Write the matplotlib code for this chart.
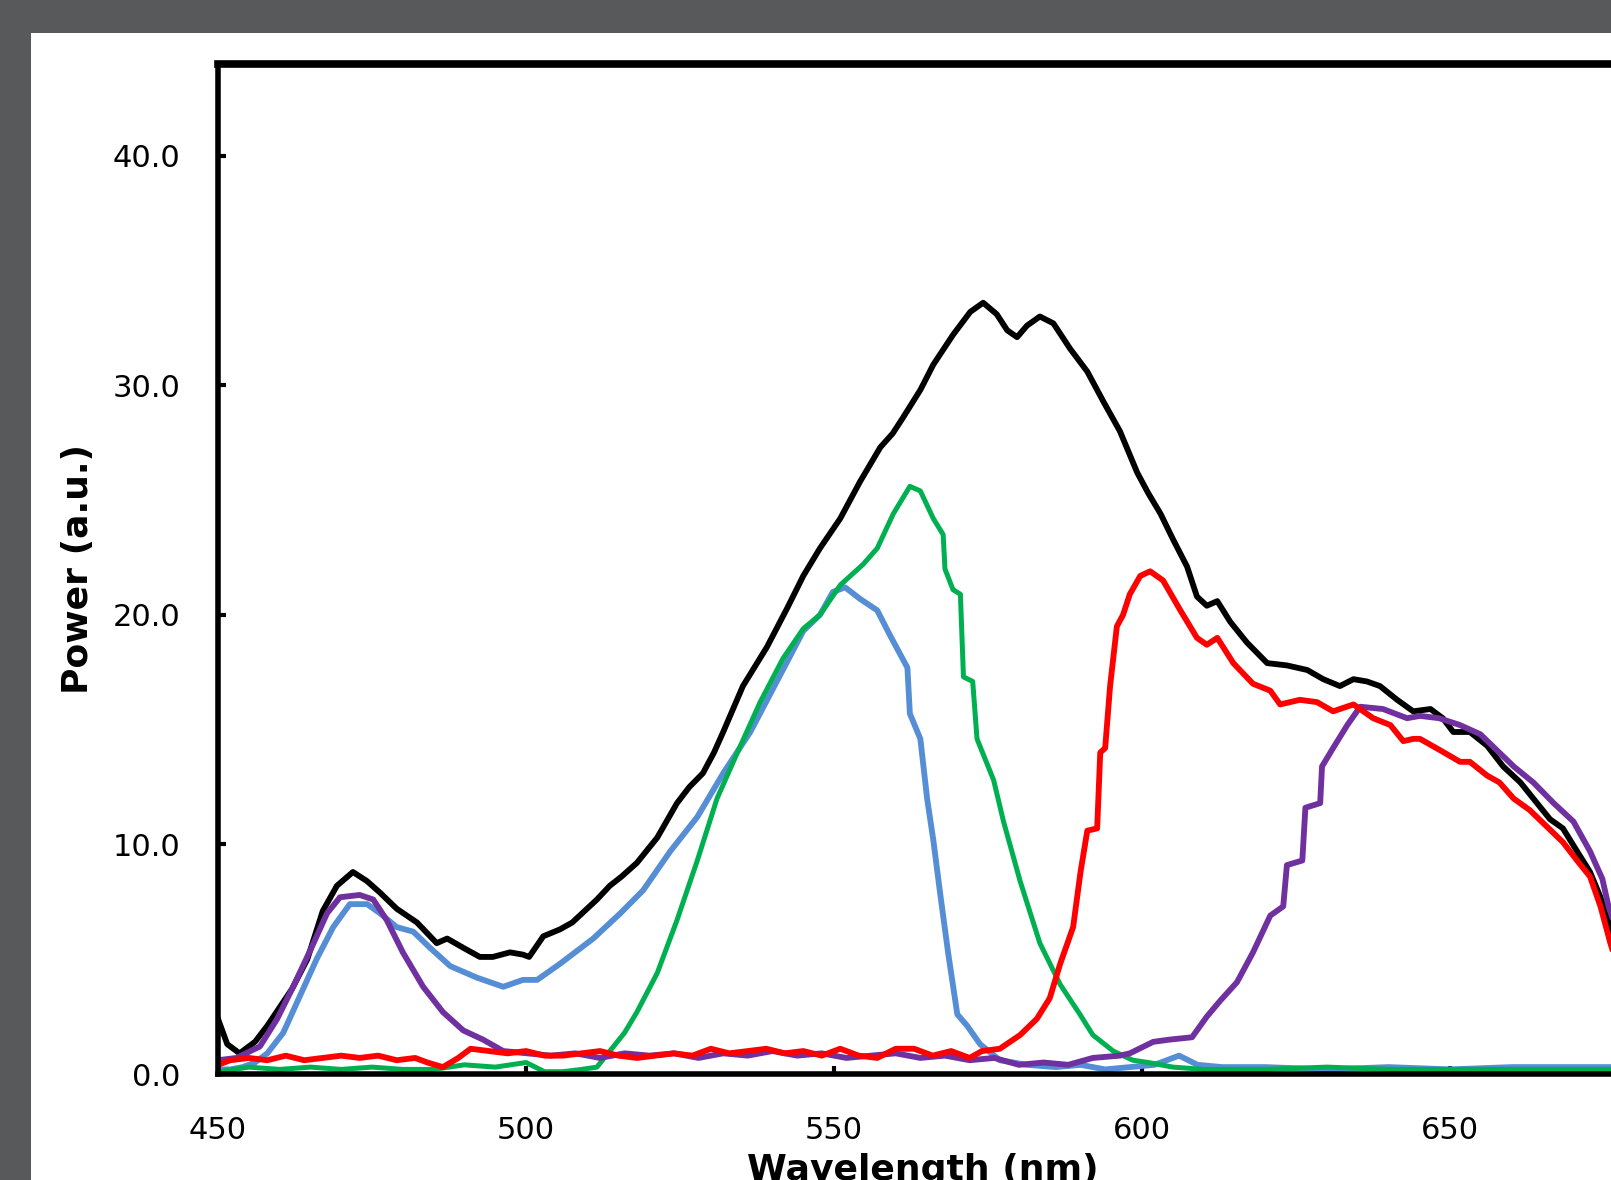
import matplotlib
matplotlib.use("Agg")
import matplotlib.pyplot as plt
from matplotlib.patches import Rectangle
from matplotlib.ticker import FormatStrFormatter

# espectro total (negro)
wl_black = [450, 451.5, 453.5, 456, 458, 460, 462, 464.5, 467, 469.3, 471.9, 474.2, 476.3, 479,
            482.3, 485.5, 487.2, 489.8, 492.5, 494.6, 497.4, 499.5, 500.5, 502.8, 505.5, 507.5,
            509.9, 511.5, 513.6, 515.5, 518, 521.3, 524.5, 526.5, 528.7, 530.5, 532, 535.2, 539.1,
            542.4, 545, 547.7, 551, 554.2, 557.5, 559.5, 561.2, 564, 566.1, 569.3, 572.1, 574.2,
            576.4, 578.1, 579.7, 581.3, 583.4, 585.6, 588.3, 591.1, 593.7, 596.4, 599.2, 601, 603,
            605, 607.3, 608.9, 610.5, 612.2, 614.3, 617, 620.3, 623.5, 626.8, 629.4, 632.1, 634.3,
            636.5, 638.6, 641.4, 644, 646.8, 648.8, 650.5, 653.2, 656, 658.6, 661.4, 664.1, 666.2,
            668.3, 670.6, 672.7, 674.4, 675.7, 677, 679]
black = [2.4, 1.3, 0.9, 1.4, 2.1, 2.9, 3.7, 5.0, 7.1, 8.2, 8.8, 8.4, 7.9, 7.2, 6.6, 5.7, 5.9, 5.5,
         5.1, 5.1, 5.3, 5.2, 5.1, 6.0, 6.3, 6.6, 7.2, 7.6, 8.2, 8.6, 9.2, 10.3, 11.8, 12.5, 13.1,
         14.0, 14.9, 16.9, 18.6, 20.3, 21.7, 22.9, 24.2, 25.8, 27.3, 27.9, 28.6, 29.8, 30.9, 32.2,
         33.2, 33.6, 33.1, 32.4, 32.1, 32.6, 33.0, 32.7, 31.6, 30.6, 29.3, 28.0, 26.2, 25.3, 24.4,
         23.3, 22.1, 20.8, 20.4, 20.6, 19.7, 18.8, 17.9, 17.8, 17.6, 17.2, 16.9, 17.2, 17.1, 16.9,
         16.3, 15.8, 15.9, 15.5, 14.9, 14.9, 14.3, 13.4, 12.7, 11.8, 11.1, 10.7, 9.7, 8.8, 7.7,
         6.6, 5.5, 3.5]

# azul
wl_blue = [450, 452, 454, 456, 458, 460.6, 463.3, 466, 468.7, 471.4, 474.2, 476.3, 479, 481.7,
           484.4, 487.7, 492, 496.3, 499.5, 501.8, 505.5, 510.9, 515.3, 519, 523.4, 527.8, 532,
           536.4, 540.7, 545, 547.7, 549.8, 551.8, 554.2, 557, 559.1, 561.9, 562.3, 564, 565.1,
           566.1, 567.2, 568.5, 570, 571.6, 573.7, 576.9, 581.3, 586, 590, 594, 598, 602, 606,
           609, 613, 620, 630, 640, 650, 660, 670, 680]
blue = [0.2, 0.2, 0.3, 0.5, 0.9, 1.8, 3.4, 5.0, 6.4, 7.4, 7.4, 7.0, 6.4, 6.2, 5.5, 4.7, 4.2, 3.8,
        4.1, 4.1, 4.8, 5.9, 7.0, 8.0, 9.7, 11.2, 13.1, 14.9, 17.1, 19.3, 20.0, 21.0, 21.2, 20.7,
        20.2, 19.1, 17.7, 15.7, 14.6, 12.0, 10.2, 7.9, 5.3, 2.6, 2.1, 1.3, 0.6, 0.4, 0.3, 0.4,
        0.2, 0.3, 0.4, 0.8, 0.4, 0.3, 0.3, 0.2, 0.3, 0.2, 0.3, 0.3, 0.3]

# verde
wl_green = [450, 455, 460, 465, 470, 475, 480, 485, 490, 495, 500, 503, 506, 509, 511.5, 513.6,
            516, 518, 521.3, 524.5, 527.8, 531, 534.3, 538, 541.7, 545, 547.7, 551, 554.7, 557,
            559.6, 562.3, 564, 566.1, 567.7, 568, 569.3, 570.5, 571, 572.5, 573.2, 575.9, 577.5,
            580.2, 583.4, 586.7, 589.9, 592, 595.3, 598.5, 601, 605, 610, 620, 630, 640, 650,
            660, 670, 680]
green = [0.1, 0.3, 0.2, 0.3, 0.2, 0.3, 0.2, 0.2, 0.4, 0.3, 0.5, 0.1, 0.1, 0.2, 0.3, 1.0, 1.8,
         2.7, 4.4, 6.7, 9.3, 12.0, 14.0, 16.2, 18.1, 19.4, 20.0, 21.3, 22.2, 22.9, 24.4, 25.6,
         25.4, 24.2, 23.5, 22.0, 21.1, 20.9, 17.3, 17.1, 14.6, 12.8, 11.0, 8.4, 5.7, 3.9, 2.6,
         1.7, 1.0, 0.6, 0.5, 0.3, 0.2, 0.2, 0.3, 0.2, 0.2, 0.2, 0.2, 0.2]

# rojo
wl_red = [450, 452, 455, 458, 461, 464, 467, 470, 473, 476, 479, 482, 484, 486.5, 489, 491, 494,
          497, 500, 503, 506, 509, 512, 515, 518, 521, 524, 527, 530, 533, 536, 539, 542, 545,
          548, 551, 554, 557, 560, 563, 566, 569, 572, 574, 576.9, 580.2, 582.9, 585, 586.7,
          588.8, 590, 591.1, 592.7, 593.2, 594, 594.8, 595.9, 596.9, 598, 599.7, 601.3, 603.4,
          606.2, 608.9, 610.5, 612.2, 614.8, 618, 620.8, 622.4, 625.6, 628.4, 631, 634.3, 637.5,
          640.3, 642.4, 644, 645.1, 648.4, 651.6, 653.2, 656, 658, 660.3, 662.9, 665.6, 668.3,
          670.6, 672.7, 674.4, 676, 678, 680]
red = [0.4, 0.6, 0.7, 0.6, 0.8, 0.6, 0.7, 0.8, 0.7, 0.8, 0.6, 0.7, 0.5, 0.3, 0.7, 1.1, 1.0, 0.9,
       1.0, 0.8, 0.8, 0.9, 1.0, 0.8, 0.7, 0.8, 0.9, 0.8, 1.1, 0.9, 1.0, 1.1, 0.9, 1.0, 0.8, 1.1,
       0.8, 0.7, 1.1, 1.1, 0.8, 1.0, 0.7, 1.0, 1.1, 1.7, 2.4, 3.3, 4.8, 6.4, 8.8, 10.6, 10.7,
       14.0, 14.2, 16.9, 19.5, 20.0, 20.9, 21.7, 21.9, 21.5, 20.2, 19.0, 18.7, 19.0, 17.9, 17.0,
       16.7, 16.1, 16.3, 16.2, 15.8, 16.1, 15.5, 15.2, 14.5, 14.6, 14.6, 14.1, 13.6, 13.6, 13.0,
       12.7, 12.0, 11.5, 10.8, 10.1, 9.3, 8.6, 7.3, 5.7, 4.0, 2.5]

# morado
wl_purple = [450, 453, 456.8, 459.6, 462.2, 465, 467.7, 469.8, 473, 475.2, 477.4, 480, 483.3,
             486.5, 489.8, 493, 496.3, 500.2, 504, 508, 512, 516, 520, 524, 528, 532, 536, 540,
             544, 548, 552, 556, 560, 564, 568, 572, 576, 580, 584, 588, 592, 596.4, 598, 601.8,
             604.5, 608.1, 610.5, 612.7, 615.4, 618, 620.8, 622.9, 623.5, 626, 626.5, 628.9,
             629.2, 631, 633.3, 635.4, 639.1, 643, 645.1, 648.2, 651.6, 654.9, 657.6, 660.3,
             663.5, 666.8, 670, 672.7, 674.7, 675.7, 678, 680]
purple = [0.6, 0.7, 1.2, 2.4, 3.8, 5.4, 7.0, 7.7, 7.8, 7.6, 6.7, 5.3, 3.8, 2.7, 1.9, 1.5, 1.0,
          0.9, 0.8, 0.9, 0.7, 0.9, 0.8, 0.9, 0.7, 0.9, 0.8, 1.0, 0.8, 0.9, 0.7, 0.8, 0.9, 0.7,
          0.8, 0.6, 0.7, 0.4, 0.5, 0.4, 0.7, 0.8, 0.9, 1.4, 1.5, 1.6, 2.5, 3.2, 4.0, 5.3, 6.9,
          7.3, 9.1, 9.3, 11.6, 11.8, 13.4, 14.2, 15.2, 16.0, 15.9, 15.5, 15.6, 15.5, 15.2, 14.8,
          14.1, 13.4, 12.7, 11.8, 11.0, 9.7, 8.5, 7.3, 5.5, 3.5]

x_ticks = [450, 500, 550, 600, 650]
y_ticks = [0, 10, 20, 30, 40]

fig = plt.figure(figsize=(16.11, 11.80), dpi=100, facecolor="#58595b")
# panel blanco de la captura
fig.patches.append(Rectangle((31 / 1611, 0), 1, 1147 / 1180, transform=fig.transFigure,
                             facecolor="white", edgecolor="none", zorder=-10))

ax = fig.add_axes([218 / 1611, 106 / 1180, 1417 / 1611, 1010 / 1180])
ax.set_zorder(5)
ax.set_facecolor("white")

lw = 4.2
ax.plot(wl_black, black, color="black", lw=lw, solid_joinstyle="round")
ax.plot(wl_blue, blue, color="#558ed5", lw=lw, solid_joinstyle="round")
ax.plot(wl_green, green, color="#00b050", lw=3.6, solid_joinstyle="round")
ax.plot(wl_purple, purple, color="#7030a0", lw=lw, solid_joinstyle="round")
ax.plot(wl_red, red, color="#ff0000", lw=lw, solid_joinstyle="round")

ax.set_xlim(450, 680)
ax.set_ylim(0, 44)
ax.set_xticks(x_ticks)
ax.set_yticks(y_ticks)
ax.yaxis.set_major_formatter(FormatStrFormatter("%.1f"))

for s in ["left", "bottom", "right"]:
    ax.spines[s].set_linewidth(4)
ax.spines["top"].set_linewidth(5.5)

ax.tick_params(direction="in", length=6, width=3, labelsize=22, colors="black")
ax.tick_params(axis="y", pad=27)
ax.tick_params(axis="x", pad=30)

ax.set_xlabel("Wavelength (nm)", fontsize=26, fontweight="bold")
ax.set_ylabel("Power (a.u.)", fontsize=26, fontweight="bold")
ax.xaxis.set_label_coords((923 - 218) / 1417, -0.078)
ax.yaxis.set_label_coords(-0.087, 0.5)

fig.savefig("out.png", dpi=100, facecolor=fig.get_facecolor())
